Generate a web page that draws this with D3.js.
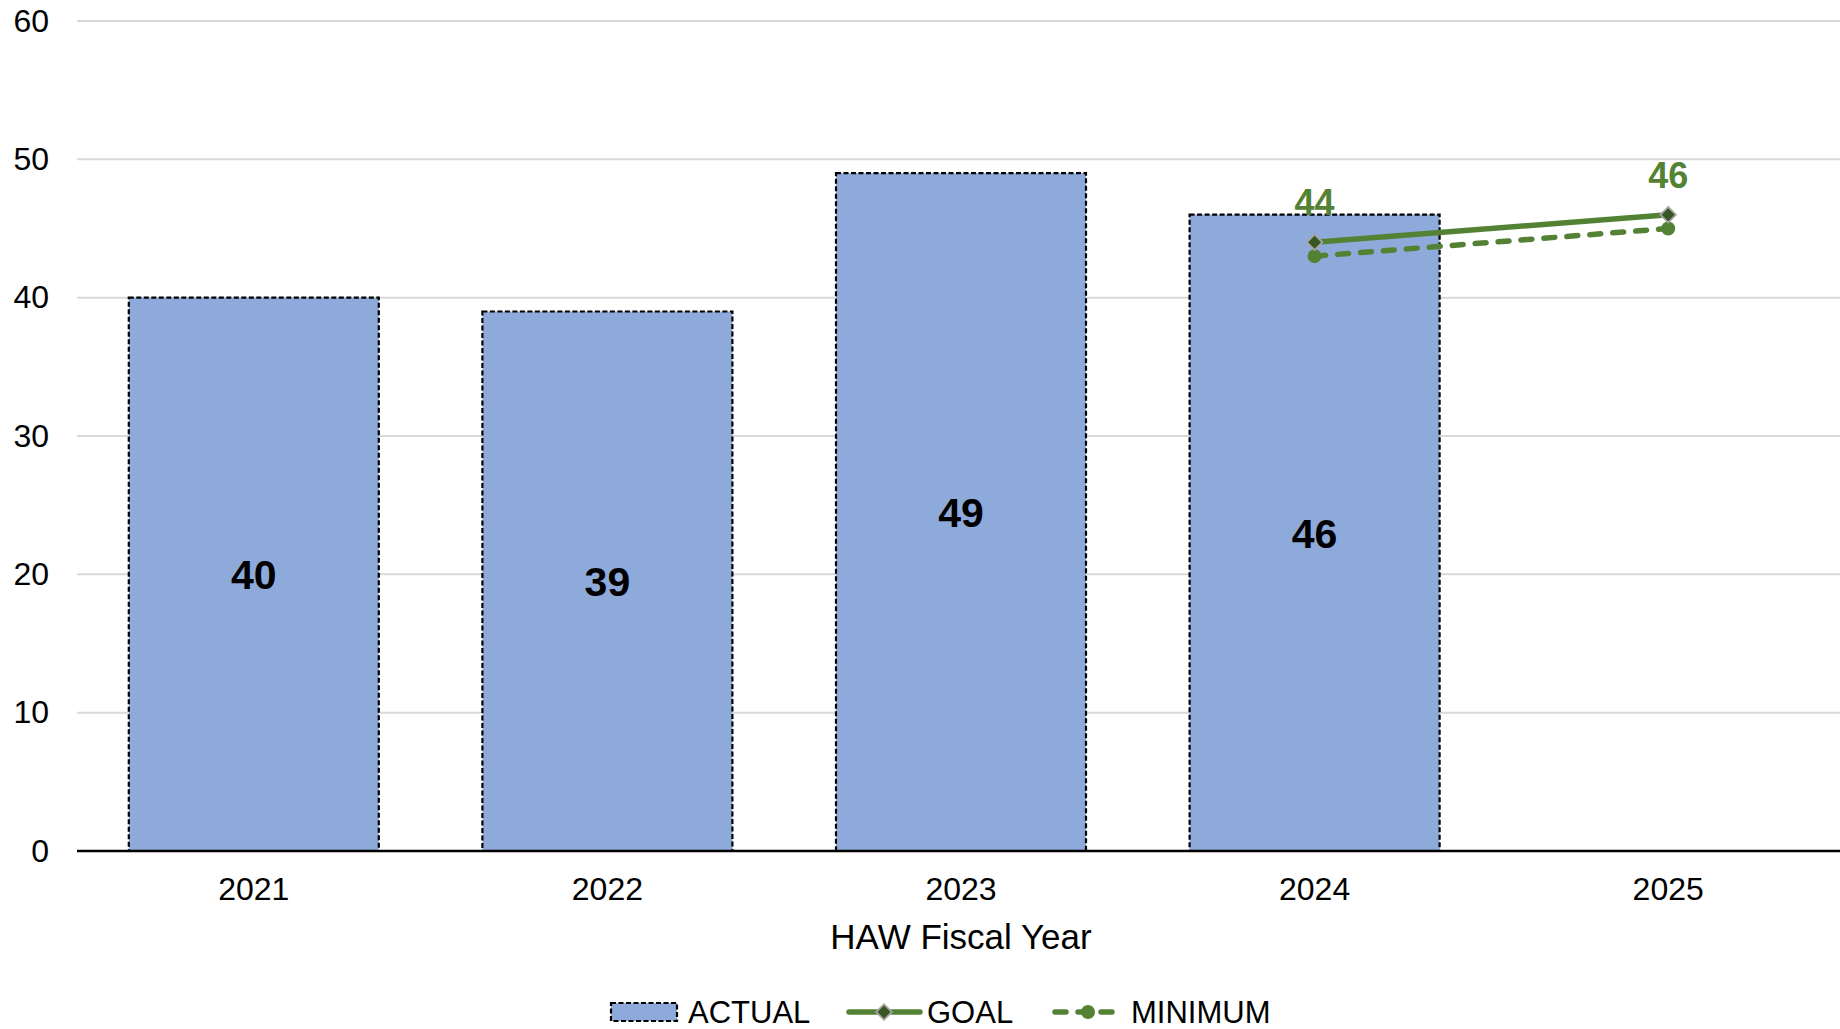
<!DOCTYPE html>
<html>
<head>
<meta charset="utf-8">
<script src="https://cdn.jsdelivr.net/npm/d3@7"></script>
<style>
  html, body { margin: 0; padding: 0; background: #fff; }
  svg { display: block; font-family: Arial, "Liberation Sans", sans-serif; }
</style>
</head>
<body>
<svg id="chart" width="1840" height="1029"></svg>
<script>
// ---- data ----
const categories = ["2021", "2022", "2023", "2024", "2025"];
const actualValues = [40, 39, 49, 46, null];
const goalValues = [null, null, null, 44, 46];
const minimumValues = [null, null, null, 43, 45];
const yTicks = [0, 10, 20, 30, 40, 50, 60];
const legendLabels = ["ACTUAL", "GOAL", "MINIMUM"];
const xAxisTitle = "HAW Fiscal Year";

// ---- layout ----
const W = 1840, H = 1029;
const plotLeft = 77, plotRight = 1845, plotTop = 21, plotBottom = 851;
const green = "#548235", darkGreen = "#375623", barFill = "#8eaadb";

const svg = d3.select("#chart");

const x = d3.scaleBand()
  .domain(categories)
  .range([plotLeft, plotRight])
  .paddingInner(0.293)
  .paddingOuter(0.1465);

const y = d3.scaleLinear().domain([0, 60]).range([plotBottom, plotTop]);

// gridlines
svg.append("g")
  .selectAll("line")
  .data(yTicks.filter(d => d !== 0))
  .join("line")
  .attr("x1", plotLeft).attr("x2", W)
  .attr("y1", d => y(d)).attr("y2", d => y(d))
  .attr("stroke", "#d9d9d9").attr("stroke-width", 2);

// y tick labels
const yAxis = d3.axisLeft(y).tickValues(yTicks).tickSize(0).tickPadding(28);
const yg = svg.append("g").attr("transform", `translate(${plotLeft},0)`).call(yAxis);
yg.select(".domain").remove();
yg.selectAll("text")
  .attr("font-size", 32).attr("fill", "#000")
  .attr("font-family", "Arial, 'Liberation Sans', sans-serif");

// bars
const barData = categories.map((c, i) => ({ c, v: actualValues[i] })).filter(d => d.v != null);
svg.append("g")
  .selectAll("rect")
  .data(barData)
  .join("rect")
  .attr("x", d => x(d.c))
  .attr("y", d => y(d.v))
  .attr("width", x.bandwidth())
  .attr("height", d => y(0) - y(d.v))
  .attr("fill", barFill)
  .attr("stroke", "#000")
  .attr("stroke-width", 2.2)
  .attr("stroke-dasharray", "5,2.5");

// bar labels
svg.append("g")
  .selectAll("text")
  .data(barData)
  .join("text")
  .attr("x", d => x(d.c) + x.bandwidth() / 2)
  .attr("y", d => (y(d.v) + y(0)) / 2 + 15)
  .attr("text-anchor", "middle")
  .attr("font-size", 41).attr("font-weight", "bold").attr("fill", "#000")
  .text(d => d.v);

// x axis
const xAxis = d3.axisBottom(x).tickSize(0).tickPadding(26);
const xg = svg.append("g").attr("transform", `translate(0,${plotBottom})`).call(xAxis);
xg.select(".domain").remove();
xg.selectAll("text")
  .attr("font-size", 32).attr("fill", "#000")
  .attr("font-family", "Arial, 'Liberation Sans', sans-serif");
svg.append("line")
  .attr("x1", plotLeft).attr("x2", W)
  .attr("y1", y(0)).attr("y2", y(0))
  .attr("stroke", "#000").attr("stroke-width", 2.5);

// x axis title
svg.append("text")
  .attr("x", (x("2023") + x.bandwidth() / 2))
  .attr("y", 949)
  .attr("text-anchor", "middle")
  .attr("font-size", 35).attr("fill", "#000")
  .text(xAxisTitle);

// lines
const cx = c => x(c) + x.bandwidth() / 2;
const minData = categories.map((c, i) => ({ c, v: minimumValues[i] })).filter(d => d.v != null);
const goalData = categories.map((c, i) => ({ c, v: goalValues[i] })).filter(d => d.v != null);
const line = d3.line().x(d => cx(d.c)).y(d => y(d.v));

svg.append("path")
  .datum(minData)
  .attr("d", line)
  .attr("fill", "none").attr("stroke", green).attr("stroke-width", 5.5)
  .attr("stroke-linecap", "round").attr("stroke-dasharray", "11,12");
svg.append("g").selectAll("circle").data(minData).join("circle")
  .attr("cx", d => cx(d.c)).attr("cy", d => y(d.v)).attr("r", 7)
  .attr("fill", green);

svg.append("path")
  .datum(goalData)
  .attr("d", line)
  .attr("fill", "none").attr("stroke", green).attr("stroke-width", 5.5);
svg.append("g").selectAll("path").data(goalData).join("path")
  .attr("d", d3.symbol().type(d3.symbolSquare).size(120))
  .attr("transform", d => `translate(${cx(d.c)},${y(d.v)}) rotate(45)`)
  .attr("fill", darkGreen).attr("stroke", "#a5a5a5").attr("stroke-width", 1.8);

// goal labels
svg.append("g").selectAll("text").data(goalData).join("text")
  .attr("x", d => cx(d.c)).attr("y", d => y(d.v) - 27)
  .attr("text-anchor", "middle")
  .attr("font-size", 36).attr("font-weight", "bold").attr("fill", green)
  .text(d => d.v);

// legend
const lg = svg.append("g");
const ly = 1012;
lg.append("rect")
  .attr("x", 611).attr("y", ly - 9).attr("width", 66).attr("height", 18)
  .attr("fill", barFill).attr("stroke", "#000").attr("stroke-width", 2.2)
  .attr("stroke-dasharray", "5,2.5");
lg.append("text").attr("x", 688).attr("y", ly + 11).attr("font-size", 31).attr("fill", "#000").text(legendLabels[0]);

lg.append("line").attr("x1", 849).attr("x2", 920).attr("y1", ly).attr("y2", ly)
  .attr("stroke", green).attr("stroke-width", 5.5).attr("stroke-linecap", "round");
lg.append("path")
  .attr("d", d3.symbol().type(d3.symbolSquare).size(120))
  .attr("transform", `translate(884,${ly}) rotate(45)`)
  .attr("fill", darkGreen).attr("stroke", "#a5a5a5").attr("stroke-width", 1.8);
lg.append("text").attr("x", 927).attr("y", ly + 11).attr("font-size", 31).attr("fill", "#000").text(legendLabels[1]);

lg.append("line").attr("x1", 1055).attr("x2", 1117).attr("y1", ly).attr("y2", ly)
  .attr("stroke", green).attr("stroke-width", 5.5).attr("stroke-linecap", "round")
  .attr("stroke-dasharray", "11,12");
lg.append("circle").attr("cx", 1088).attr("cy", ly).attr("r", 7).attr("fill", green);
lg.append("text").attr("x", 1131).attr("y", ly + 11).attr("font-size", 31).attr("fill", "#000").text(legendLabels[2]);
</script>
</body>
</html>
